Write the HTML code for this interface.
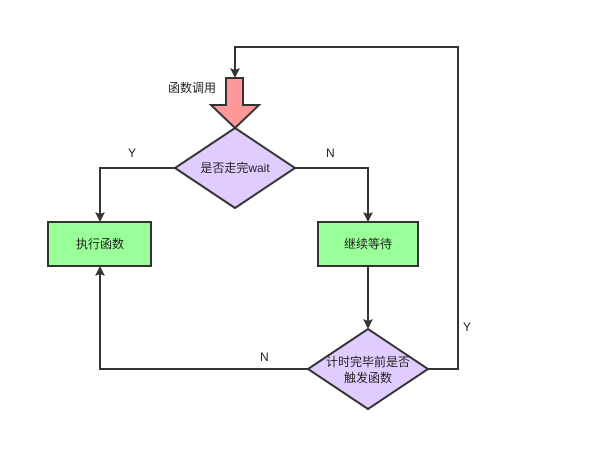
<!DOCTYPE html>
<html><head><meta charset="utf-8"><style>
html,body{margin:0;padding:0;background:#fff;}
svg text{font-family:"Liberation Sans","Noto Sans CJK SC",sans-serif;font-size:12px;fill:#222;}
</style></head><body>
<svg width="610" height="471" viewBox="0 0 610 471" xmlns="http://www.w3.org/2000/svg">
<defs><marker id="a" markerWidth="10" markerHeight="10" refX="8" refY="5" orient="auto" markerUnits="userSpaceOnUse">
<path d="M0,0 L10,5 L0,10 L2,5 z" fill="#333"/></marker></defs>
<g stroke="#333" stroke-width="2" fill="none">
<polyline points="428,369 458,369 458,47 235,47 235,76" marker-end="url(#a)"/>
<polyline points="175,168 100,168 100,220" marker-end="url(#a)"/>
<polyline points="295,168 368,168 368,220" marker-end="url(#a)"/>
<polyline points="368,266 368,327" marker-end="url(#a)"/>
<polyline points="308,369 100,369 100,268" marker-end="url(#a)"/>
</g>
<polygon points="226,78 243,78 243,105 259,105 235,128 211,105 226,105" fill="#ff9999" stroke="#333" stroke-width="2"/>
<polygon points="235,128 295,168 235,208 175,168" fill="#e1ccff" stroke="#333" stroke-width="2"/>
<polygon points="368,329 428,369 368,409 308,369" fill="#e1ccff" stroke="#333" stroke-width="2"/>
<rect x="48" y="222" width="103" height="44" fill="#99ff99" stroke="#333" stroke-width="2"/>
<rect x="318" y="222" width="100" height="44" fill="#99ff99" stroke="#333" stroke-width="2"/>
<text x="168" y="92">函数调用</text>
<text x="235" y="172" text-anchor="middle">是否走完wait</text>
<text x="100" y="248" text-anchor="middle">执行函数</text>
<text x="368" y="248" text-anchor="middle">继续等待</text>
<text x="368" y="366" text-anchor="middle">计时完毕前是否</text>
<text x="368" y="382" text-anchor="middle">触发函数</text>
<text x="128" y="157">Y</text>
<text x="326" y="157">N</text>
<text x="260" y="361">N</text>
<text x="463" y="331">Y</text>
</svg>
</body></html>
